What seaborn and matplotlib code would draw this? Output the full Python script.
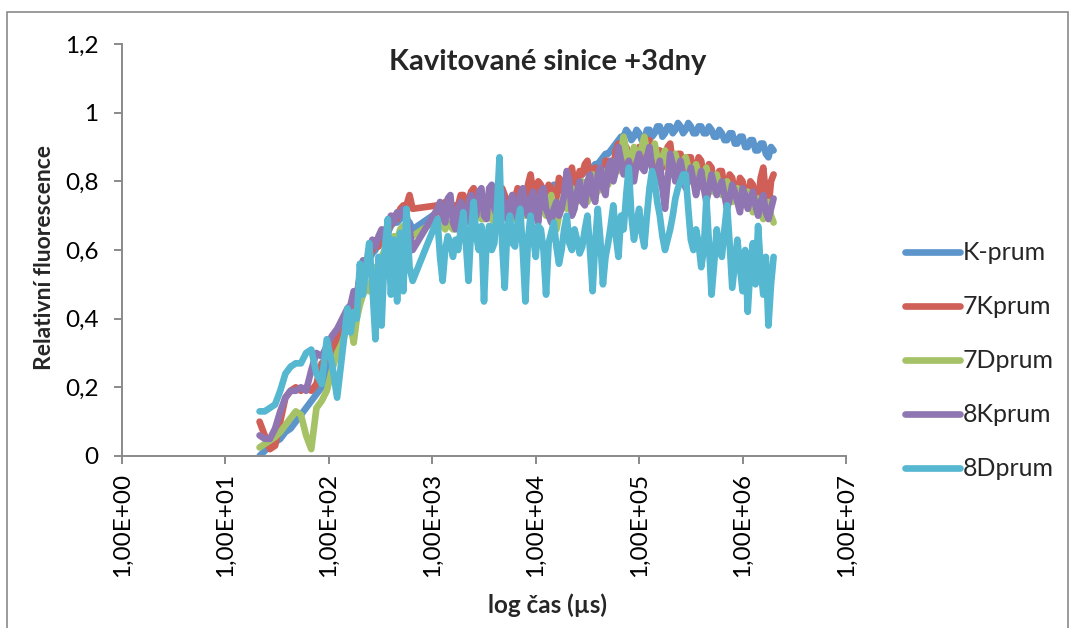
import matplotlib
matplotlib.use("Agg")
import matplotlib.pyplot as plt
from matplotlib.lines import Line2D
from matplotlib.patches import Rectangle
from matplotlib.ticker import NullLocator
import numpy as np
import pandas as pd
import seaborn as sns

# log10 casu (µs)
log_cas = [
    1.33, 1.38, 1.43, 1.48, 1.53, 1.58, 1.63, 1.68, 1.73, 1.78,
    1.83, 1.88, 1.93, 1.98, 2.03, 2.08, 2.13, 2.18,
    2.21, 2.24, 2.27, 2.30, 2.33, 2.36, 2.39, 2.42, 2.45, 2.48,
    2.51, 2.54, 2.57, 2.60, 2.63, 2.66, 2.69, 2.72, 2.75, 2.78, 2.81,
    3.050, 3.075, 3.100, 3.125, 3.150, 3.175, 3.200, 3.225, 3.250, 3.275,
    3.300, 3.325, 3.350, 3.375, 3.400, 3.425, 3.450, 3.475, 3.500, 3.525,
    3.550, 3.575, 3.600, 3.625, 3.650, 3.675, 3.700, 3.725, 3.750, 3.775,
    3.800, 3.825, 3.850, 3.875, 3.900, 3.925, 3.950, 3.975, 4.000, 4.025,
    4.050, 4.075, 4.100, 4.125, 4.150, 4.175, 4.200, 4.225, 4.250, 4.275,
    4.300, 4.325, 4.350, 4.375, 4.400, 4.425, 4.450, 4.475, 4.500, 4.525,
    4.550, 4.575, 4.600, 4.625, 4.650, 4.675, 4.700, 4.725, 4.750, 4.775,
    4.800, 4.825, 4.850, 4.875, 4.900, 4.925, 4.950, 4.975, 5.000, 5.025,
    5.050, 5.075, 5.100, 5.125, 5.150, 5.175, 5.200, 5.225, 5.250, 5.275,
    5.300, 5.325, 5.350, 5.375, 5.400, 5.425, 5.450, 5.475, 5.500, 5.525,
    5.550, 5.575, 5.600, 5.625, 5.650, 5.675, 5.700, 5.725, 5.750, 5.775,
    5.800, 5.825, 5.850, 5.875, 5.900, 5.925, 5.950, 5.975, 6.000, 6.025,
    6.050, 6.075, 6.100, 6.125, 6.150, 6.175, 6.200, 6.225, 6.250, 6.275,
    6.300,
]

k_prum = [
    0.00, 0.015, 0.03, 0.04, 0.05, 0.07, 0.08, 0.10, 0.12, 0.14,
    0.16, 0.18, 0.20, 0.24, 0.28, 0.31, 0.35, 0.38,
    0.41, 0.44, 0.46, 0.50, 0.52, 0.54, 0.57, 0.59, 0.60, 0.62,
    0.63, 0.64, 0.65, 0.67, 0.68, 0.68, 0.69, 0.70, 0.69, 0.68, 0.66,
    0.71, 0.72, 0.70, 0.71, 0.72, 0.73, 0.71, 0.72, 0.73, 0.74,
    0.72, 0.73, 0.74, 0.75, 0.73, 0.74, 0.75, 0.73, 0.72, 0.74,
    0.75, 0.74, 0.73, 0.75, 0.75, 0.76, 0.74, 0.75, 0.73, 0.74,
    0.75, 0.76, 0.74, 0.75, 0.76, 0.77, 0.75, 0.76, 0.77, 0.76,
    0.76, 0.78, 0.78, 0.77, 0.77, 0.79, 0.79, 0.78, 0.78, 0.80,
    0.80, 0.81, 0.79, 0.81, 0.81, 0.82, 0.82, 0.83, 0.83, 0.84,
    0.84, 0.85, 0.85, 0.86, 0.87, 0.88, 0.88, 0.89, 0.90, 0.91,
    0.92, 0.93, 0.93, 0.95, 0.94, 0.92, 0.93, 0.95, 0.94, 0.92,
    0.92, 0.95, 0.95, 0.93, 0.94, 0.96, 0.96, 0.93, 0.94, 0.96,
    0.96, 0.94, 0.95, 0.97, 0.96, 0.94, 0.95, 0.97, 0.96, 0.94,
    0.94, 0.96, 0.96, 0.94, 0.94, 0.96, 0.95, 0.93, 0.93, 0.95,
    0.94, 0.92, 0.92, 0.94, 0.94, 0.91, 0.91, 0.93, 0.93, 0.90,
    0.90, 0.92, 0.92, 0.89, 0.89, 0.91, 0.91, 0.88, 0.87, 0.90,
    0.89,
]

k7_prum = [
    0.10, 0.06, 0.02, 0.03, 0.10, 0.17, 0.19, 0.20, 0.19, 0.20,
    0.19, 0.21, 0.27, 0.28, 0.30, 0.35, 0.38, 0.41,
    0.42, 0.45, 0.47, 0.52, 0.50, 0.56, 0.58, 0.60, 0.62, 0.61,
    0.64, 0.66, 0.65, 0.68, 0.70, 0.69, 0.72, 0.73, 0.73, 0.76, 0.72,
    0.73, 0.71, 0.72, 0.74, 0.74, 0.71, 0.70, 0.73, 0.73, 0.76,
    0.76, 0.73, 0.74, 0.77, 0.78, 0.74, 0.72, 0.76, 0.75, 0.73,
    0.73, 0.77, 0.77, 0.74, 0.74, 0.78, 0.76, 0.73, 0.72, 0.76,
    0.75, 0.78, 0.77, 0.74, 0.73, 0.79, 0.82, 0.77, 0.76, 0.80,
    0.79, 0.75, 0.74, 0.79, 0.78, 0.74, 0.75, 0.81, 0.80, 0.76,
    0.77, 0.82, 0.84, 0.79, 0.79, 0.83, 0.82, 0.85, 0.86, 0.81,
    0.80, 0.84, 0.83, 0.80, 0.81, 0.86, 0.86, 0.82, 0.84, 0.89,
    0.91, 0.85, 0.86, 0.90, 0.88, 0.84, 0.84, 0.89, 0.90, 0.85,
    0.87, 0.92, 0.92, 0.86, 0.85, 0.89, 0.89, 0.84, 0.86, 0.90,
    0.91, 0.85, 0.84, 0.88, 0.88, 0.83, 0.82, 0.87, 0.87, 0.82,
    0.83, 0.87, 0.86, 0.81, 0.80, 0.85, 0.84, 0.79, 0.78, 0.83,
    0.83, 0.78, 0.77, 0.82, 0.81, 0.76, 0.76, 0.81, 0.80, 0.75,
    0.74, 0.80, 0.79, 0.74, 0.73, 0.81, 0.84, 0.76, 0.72, 0.80,
    0.82,
]

d7_prum = [
    0.025, 0.035, 0.045, 0.055, 0.07, 0.09, 0.11, 0.13, 0.12, 0.06,
    0.02, 0.14, 0.16, 0.19, 0.25, 0.30, 0.33, 0.38,
    0.38, 0.33, 0.40, 0.44, 0.47, 0.50, 0.48, 0.52, 0.55, 0.54,
    0.58, 0.60, 0.59, 0.62, 0.64, 0.63, 0.66, 0.67, 0.66, 0.65, 0.64,
    0.69, 0.68, 0.67, 0.66, 0.68, 0.67, 0.66, 0.68, 0.68, 0.66,
    0.67, 0.69, 0.70, 0.68, 0.68, 0.71, 0.72, 0.69, 0.69, 0.70,
    0.71, 0.69, 0.68, 0.71, 0.73, 0.70, 0.70, 0.73, 0.72, 0.69,
    0.69, 0.73, 0.74, 0.71, 0.70, 0.72, 0.73, 0.71, 0.72, 0.75,
    0.75, 0.72, 0.70, 0.74, 0.76, 0.71, 0.66, 0.70, 0.74, 0.76,
    0.72, 0.75, 0.78, 0.76, 0.74, 0.78, 0.80, 0.77, 0.74, 0.79,
    0.82, 0.79, 0.77, 0.81, 0.83, 0.80, 0.79, 0.83, 0.85, 0.86,
    0.83, 0.88, 0.93, 0.89, 0.84, 0.87, 0.90, 0.88, 0.86, 0.90,
    0.93, 0.89, 0.85, 0.88, 0.91, 0.87, 0.84, 0.87, 0.89, 0.85,
    0.82, 0.86, 0.88, 0.85, 0.83, 0.86, 0.87, 0.84, 0.80, 0.83,
    0.85, 0.82, 0.79, 0.82, 0.84, 0.80, 0.77, 0.80, 0.82, 0.78,
    0.76, 0.79, 0.80, 0.76, 0.74, 0.77, 0.78, 0.75, 0.73, 0.76,
    0.77, 0.73, 0.71, 0.74, 0.75, 0.71, 0.69, 0.72, 0.74, 0.70,
    0.68,
]

k8_prum = [
    0.06, 0.05, 0.05, 0.08, 0.13, 0.17, 0.19, 0.19, 0.20, 0.19,
    0.25, 0.30, 0.29, 0.32, 0.35, 0.37, 0.40, 0.43,
    0.44, 0.48, 0.46, 0.53, 0.57, 0.55, 0.60, 0.63, 0.61, 0.64,
    0.66, 0.63, 0.67, 0.70, 0.68, 0.71, 0.70, 0.72, 0.70, 0.66, 0.60,
    0.72, 0.74, 0.70, 0.68, 0.75, 0.76, 0.68, 0.66, 0.72, 0.74,
    0.70, 0.68, 0.74, 0.76, 0.71, 0.70, 0.77, 0.78, 0.70, 0.69,
    0.78, 0.79, 0.72, 0.70, 0.75, 0.77, 0.70, 0.69, 0.74, 0.76,
    0.71, 0.69, 0.76, 0.78, 0.72, 0.70, 0.75, 0.77, 0.70, 0.68,
    0.77, 0.78, 0.72, 0.70, 0.68, 0.72, 0.74, 0.70, 0.72, 0.76,
    0.83, 0.80, 0.70, 0.72, 0.77, 0.80, 0.74, 0.73, 0.80, 0.82,
    0.76, 0.74, 0.82, 0.84, 0.78, 0.76, 0.84, 0.86, 0.80, 0.83,
    0.90, 0.86, 0.82, 0.84, 0.86, 0.83, 0.80, 0.85, 0.88, 0.84,
    0.83, 0.87, 0.90, 0.84, 0.78, 0.82, 0.86, 0.78, 0.72, 0.80,
    0.88, 0.85, 0.80, 0.83, 0.86, 0.82, 0.78, 0.81, 0.84, 0.80,
    0.76, 0.80, 0.83, 0.78, 0.74, 0.78, 0.82, 0.79, 0.76, 0.78,
    0.80, 0.76, 0.72, 0.75, 0.79, 0.77, 0.74, 0.71, 0.78, 0.76,
    0.72, 0.75, 0.77, 0.73, 0.70, 0.74, 0.76, 0.71, 0.69, 0.72,
    0.75,
]

d8_prum = [
    0.13, 0.13, 0.14, 0.15, 0.19, 0.24, 0.26, 0.27, 0.27, 0.30,
    0.31, 0.24, 0.21, 0.34, 0.27, 0.17, 0.30, 0.43,
    0.36, 0.42, 0.40, 0.56, 0.47, 0.55, 0.62, 0.50, 0.34, 0.58,
    0.38, 0.60, 0.69, 0.47, 0.63, 0.45, 0.65, 0.48, 0.72, 0.55, 0.51,
    0.69, 0.58, 0.51, 0.60, 0.64, 0.62, 0.58, 0.63, 0.60, 0.66,
    0.71, 0.62, 0.51, 0.66, 0.74, 0.64, 0.60, 0.67, 0.45, 0.63,
    0.67, 0.60, 0.62, 0.72, 0.87, 0.62, 0.49, 0.66, 0.70, 0.62,
    0.61, 0.68, 0.72, 0.60, 0.45, 0.63, 0.70, 0.64, 0.58, 0.67,
    0.66, 0.60, 0.47, 0.62, 0.65, 0.68, 0.61, 0.56, 0.60, 0.66,
    0.70, 0.62, 0.60, 0.66, 0.63, 0.59, 0.61, 0.66, 0.70, 0.60,
    0.48, 0.62, 0.72, 0.63, 0.50, 0.58, 0.62, 0.67, 0.73, 0.64,
    0.58, 0.70, 0.66, 0.76, 0.84, 0.70, 0.63, 0.68, 0.72, 0.65,
    0.61, 0.70, 0.78, 0.83, 0.80, 0.74, 0.70, 0.64, 0.60, 0.63,
    0.66, 0.70, 0.75, 0.78, 0.80, 0.82, 0.82, 0.72, 0.63, 0.60,
    0.66, 0.62, 0.55, 0.60, 0.75, 0.62, 0.47, 0.56, 0.66, 0.61,
    0.58, 0.66, 0.73, 0.62, 0.49, 0.56, 0.63, 0.55, 0.48, 0.60,
    0.42, 0.55, 0.62, 0.50, 0.67, 0.55, 0.47, 0.58, 0.38, 0.50,
    0.58,
]

nazvy = ["K-prum", "7Kprum", "7Dprum", "8Kprum", "8Dprum"]
barvy = ["#5B95CC", "#CF5F57", "#A5C266", "#8F76B2", "#55B7D0"]
x_popisky = ["1,00E+00", "1,00E+01", "1,00E+02", "1,00E+03",
             "1,00E+04", "1,00E+05", "1,00E+06", "1,00E+07"]
y_popisky = ["0", "0,2", "0,4", "0,6", "0,8", "1", "1,2"]

cas = 10 ** np.array(log_cas)
frames = []
for nazev, hodnoty in zip(nazvy, [k_prum, k7_prum, d7_prum, k8_prum, d8_prum]):
    frames.append(pd.DataFrame({"cas": cas, "fluorescence": hodnoty, "vzorek": nazev}))
data = pd.concat(frames, ignore_index=True)

sns.set_theme(style="white")
plt.rcParams["font.family"] = ["Lato", "DejaVu Sans"]

fig = plt.figure(figsize=(10.75, 6.28), dpi=100)
ax = fig.add_axes([122 / 1075, 1 - 456 / 628, 724 / 1075, 412 / 628])

sns.lineplot(data=data, x="cas", y="fluorescence", hue="vzorek",
             hue_order=nazvy, palette=barvy, estimator=None, sort=False,
             linewidth=4.8, legend=False, ax=ax,
             solid_capstyle="round", solid_joinstyle="round")

ax.set_xscale("log")
ax.set_xlim(1, 1e7)
ax.set_ylim(0, 1.2)
ax.set_xticks([10.0 ** i for i in range(8)])
ax.set_xticklabels(x_popisky, rotation=90)
ax.xaxis.set_minor_locator(NullLocator())
ax.set_yticks([0, 0.2, 0.4, 0.6, 0.8, 1.0, 1.2])
ax.set_yticklabels(y_popisky)
ax.set_xlabel("")
ax.set_ylabel("")

sedo = "#8a8a8a"
for s in ["top", "right"]:
    ax.spines[s].set_visible(False)
for s in ["left", "bottom"]:
    ax.spines[s].set_color(sedo)
    ax.spines[s].set_linewidth(1.4)
ax.tick_params(axis="both", which="major", bottom=True, left=True, direction="out",
               length=6, width=1.4, color=sedo, labelsize=17.5, labelcolor="black")
ax.tick_params(axis="x", pad=6)
ax.tick_params(axis="y", pad=11)

# ramecek grafu
fig.add_artist(Rectangle((7 / 1075, -0.02), 1061 / 1075, 1.02 - 12 / 628,
                         transform=fig.transFigure, fill=False, edgecolor=sedo, linewidth=1.2))

fig.text(548 / 1075, 1 - 62 / 628, "Kavitované sinice +3dny", ha="center", va="center",
         fontsize=21, fontweight="bold")
fig.text(45 / 1075, 1 - 258 / 628, "Relativní fluorescence", ha="center", va="center",
         rotation=90, fontsize=16.5, fontweight="bold")
fig.text(548 / 1075, 1 - 605 / 628, "log čas (µs)", ha="center", va="center",
         fontsize=17.5, fontweight="bold")

handles = [Line2D([0], [0], color=c, linewidth=4.8, solid_capstyle="round") for c in barvy]
ax.legend(handles, nazvy, loc="center left", bbox_to_anchor=(905 / 1075, 1 - 361 / 628),
          bbox_transform=fig.transFigure, frameon=False, fontsize=18,
          handlelength=2.2, handletextpad=0.12, labelspacing=1.24,
          borderpad=0, borderaxespad=0)

fig.savefig("out.png", dpi=100)
